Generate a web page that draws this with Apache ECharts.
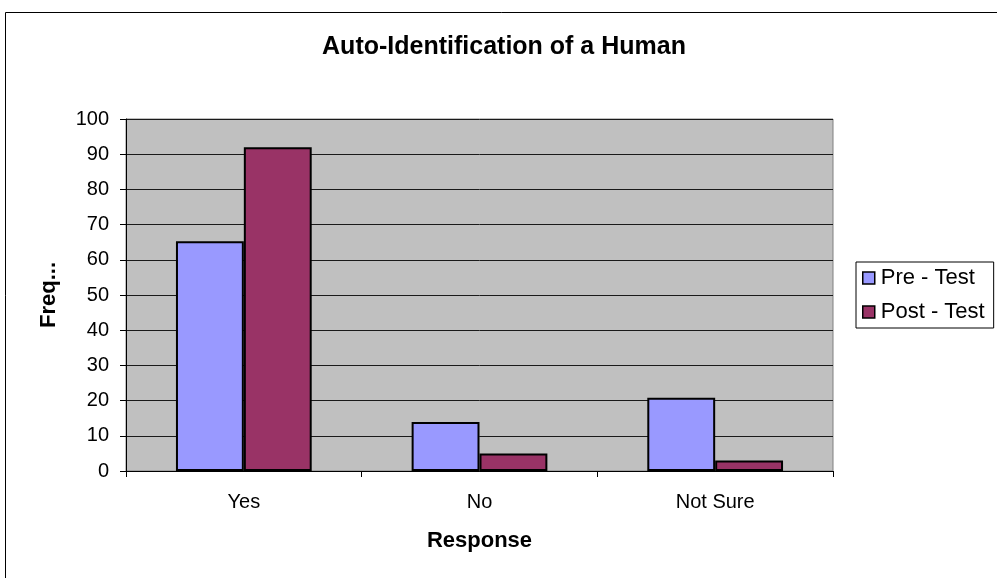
<!DOCTYPE html>
<html>
<head>
<meta charset="utf-8">
<script src="https://cdn.jsdelivr.net/npm/echarts@6/dist/echarts.min.js"></script>
<style>
  html, body { margin: 0; padding: 0; background: #ffffff; }
  #chart { width: 997px; height: 578px; }
</style>
</head>
<body>
<div id="chart"></div>
<script>
// Survey answers, percent of respondents per response
const categories = ['Yes', 'No', 'Not Sure'];
const preTest = [65.3, 13.9, 20.8];
const postTest = [92, 5, 3];
const yTicks = [0, 10, 20, 30, 40, 50, 60, 70, 80, 90, 100];

const FONT = '"Liberation Sans", Arial, Helvetica, sans-serif';

const chart = echarts.init(document.getElementById('chart'), null, { renderer: 'canvas' });

chart.setOption({
  backgroundColor: '#ffffff',
  animation: false,
  title: {
    text: 'Auto-Identification of a Human',
    left: 499,
    top: 30,
    textAlign: 'center',
    textStyle: { fontFamily: FONT, fontSize: 25, fontWeight: 'bold', color: '#000' }
  },
  graphic: [{
    type: 'rect',
    left: 3,
    top: 10,
    shape: { width: 1100, height: 700 },
    style: { fill: 'none', stroke: '#000', lineWidth: 1 },
    silent: true,
    z: -1
  }],
  legend: {
    orient: 'vertical',
    left: 856,
    top: 262,
    padding: [5, 9, 5, 6],
    borderColor: '#000',
    borderWidth: 1,
    itemWidth: 12,
    itemHeight: 12,
    itemGap: 12,
    icon: 'rect',
    itemStyle: { borderColor: '#000', borderWidth: 1.5 },
    textStyle: { fontFamily: FONT, fontSize: 22, color: '#000', padding: [0, 0, 0, 1] },
    data: ['Pre - Test', 'Post - Test']
  },
  grid: {
    left: 126,
    right: 164,
    top: 119,
    bottom: 107,
    show: true,
    backgroundColor: '#C0C0C0',
    borderColor: '#808080',
    borderWidth: 1
  },
  xAxis: {
    type: 'category',
    data: categories,
    name: 'Response',
    nameLocation: 'middle',
    nameGap: 59,
    nameTextStyle: { fontFamily: FONT, fontSize: 22, fontWeight: 'bold', color: '#000' },
    axisLine: { lineStyle: { color: '#000', width: 1 } },
    axisTick: { show: true, length: 6, alignWithLabel: false, lineStyle: { color: '#000' } },
    axisLabel: { fontFamily: FONT, fontSize: 20, color: '#000', margin: 21 },
    splitLine: { show: false }
  },
  yAxis: {
    type: 'value',
    min: yTicks[0],
    max: yTicks[yTicks.length - 1],
    interval: 10,
    name: 'Freq...',
    nameLocation: 'middle',
    nameGap: 66,
    nameRotate: 90,
    nameTextStyle: { fontFamily: FONT, fontSize: 22, fontWeight: 'bold', color: '#000' },
    axisLine: { show: true, lineStyle: { color: '#000', width: 1 } },
    axisTick: { show: true, length: 6, lineStyle: { color: '#000' } },
    axisLabel: { fontFamily: FONT, fontSize: 20, color: '#000', margin: 17 },
    splitLine: { show: true, lineStyle: { color: '#1a1a1a', width: 1 } }
  },
  series: [
    {
      name: 'Pre - Test',
      type: 'bar',
      data: preTest,
      barGap: '0%',
      barCategoryGap: '42.4%',
      itemStyle: { color: '#9999FF', borderColor: '#000', borderWidth: 2 }
    },
    {
      name: 'Post - Test',
      type: 'bar',
      data: postTest,
      barGap: '0%',
      barCategoryGap: '42.4%',
      itemStyle: { color: '#993366', borderColor: '#000', borderWidth: 2 }
    }
  ]
});
</script>
</body>
</html>
